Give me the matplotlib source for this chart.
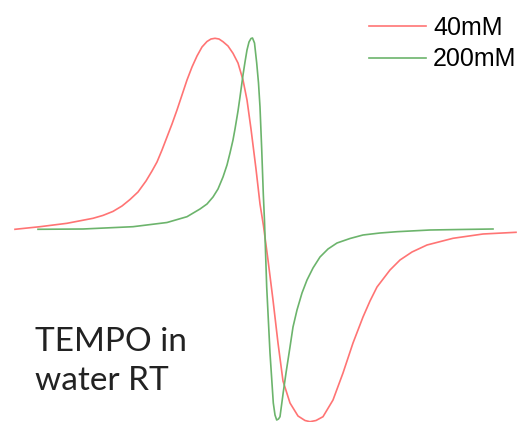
import numpy as np
import matplotlib
matplotlib.use('Agg')
import matplotlib.pyplot as plt

# EPR derivative spectra (field in a.u., signal in a.u.)
field_40 = [15, 40, 67, 93, 103, 113, 122, 130, 138, 146, 152, 157, 162, 167,
            172, 177, 182, 187, 192, 197, 202, 207, 211, 215, 219, 223, 228,
            233, 238, 243, 247, 251, 256, 260, 263.5, 268, 273, 278, 283, 290,
            298, 305, 310, 316, 323, 333, 343, 353, 363, 370, 377, 390, 400,
            412, 427, 453, 483, 516]
signal_40 = [-0.3, 2.3, 5.7, 10.7, 13.6, 17.6, 23, 29.5, 37, 48, 58, 67, 79,
             92, 105, 119, 134, 149, 162, 173, 182, 187.5, 190, 190.7, 190,
             187.3, 183, 175.7, 166, 149, 129, 100, 60, 25, 3, -31, -71, -114,
             -152, -174, -187, -191.5, -192.7, -191.5, -187.7, -171, -144,
             -114, -88, -72, -58, -41, -31, -23, -16, -9.3, -5, -3.3]

field_200 = [38, 83, 133, 167, 187, 200, 207, 213, 218, 223, 227, 230, 233,
             235, 238, 240, 243, 245, 247, 249, 251, 252.5, 254.5, 256.7, 258.5,
             260, 261.7, 263.3, 264.5, 266.7, 270, 273.3, 275, 276.7, 278.5,
             280, 283.3, 286, 290, 293, 297, 302, 307, 313, 320, 328, 337, 350,
             363, 380, 397, 430, 460, 493]
signal_200 = [-0.3, 0, 2.3, 6.5, 12.3, 20, 25, 32, 40, 52, 64, 76, 89, 100,
              118, 132, 154, 167, 179, 187, 190.5, 191, 186, 166, 146, 122, 80,
              35, 8, -58, -124, -174, -186, -191, -190, -187.7, -163, -144,
              -118, -98, -81, -64, -51, -39, -28, -20, -14, -9.5, -6, -4, -2.7,
              -1, -0.5, 0]

labels = ['40mM', '200mM']
colors = ['#ff7474', '#6cb46c']

fig = plt.figure(figsize=(5.22, 4.22), dpi=100)
ax = fig.add_axes([0, 0, 1, 1])

ax.plot(field_40, signal_40, color=colors[0], linewidth=1.2, label=labels[0])
ax.plot(field_200, signal_200, color=colors[1], linewidth=1.2, label=labels[1])

ax.set_xlim(0, 522)
ax.set_ylim(-193, 229)
ax.axis('off')

ax.legend(loc='upper left', bbox_to_anchor=(369 / 522, 1 - 16 / 422),
          frameon=False, borderpad=0, borderaxespad=0,
          prop={'family': 'Liberation Sans', 'size': 18},
          handlelength=2.28, handletextpad=0.28, labelspacing=0.3)

fig.text(35 / 522, 1 - 390 / 422, 'TEMPO in\nwater RT', family='Lato',
         fontsize=24, color='#222222', linespacing=1.38, va='baseline')

plt.savefig('out.png', dpi=100, facecolor='white')
